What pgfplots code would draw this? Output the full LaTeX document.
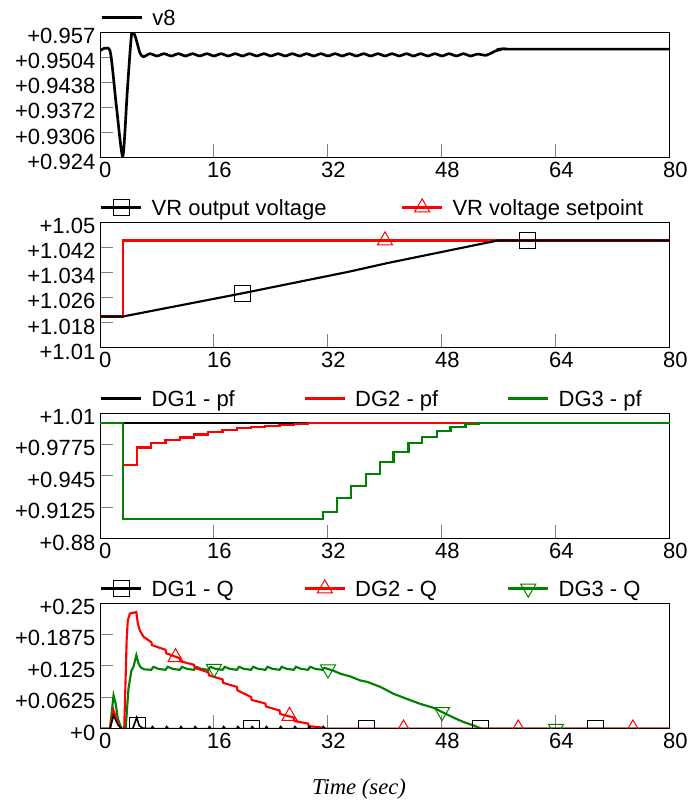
\documentclass[border=0pt]{standalone}
\usepackage{fontspec}
\setmainfont{Liberation Sans}
\newfontfamily\serifit{Liberation Serif}
\usepackage{pgfplots}
\pgfplotsset{compat=1.18}

\newcommand\fsz{\fontsize{16.5}{19}\selectfont}
% legend text in a box of fixed width so that the entries sit where the original has them
\newcommand\lent[2]{\makebox[#1][l]{\raisebox{0pt}[14pt][2.2pt]{#2}}}

\definecolor{dgreen}{RGB}{0,128,0}

\pgfplotsset{
  panel/.style={
    scale only axis, width=427.5pt, height=94.2pt,
    xmin=0, xmax=80,
    xtick={0,16,32,48,64,80}, xticklabels={0,16,32,48,64,80},
    xtick pos=left, ytick pos=left, tick align=inside,
    major tick length=10pt, tick style={gray, line width=0.75pt},
    axis line style={black, line width=0.75pt},
    clip marker paths=true,
    ticklabel style={font=\fsz},
    xticklabel style={xshift=4pt},
    yticklabel style={yshift=-3pt},
    legend style={draw=none, fill=none, at={(0,1)}, anchor=south west, yshift=0.9pt,
      legend columns=-1, inner sep=0pt, font=\fsz, column sep=5pt},
    legend cell align=left,
    legend image code/.code={\draw[##1, mark repeat=2, mark phase=2]
      plot coordinates {(0pt,0pt) (15pt,0pt) (30pt,0pt)};},
  },
  every axis plot/.append style={line width=1.6pt},
  sqm/.style={only marks, mark=square, mark size=6pt, mark options={black, line width=0.75pt, solid}, forget plot},
  trm/.style={only marks, mark=triangle, mark size=6.5pt, mark options={red, line width=0.75pt, solid}, forget plot},
  itm/.style={only marks, mark=triangle, mark size=6.5pt, mark options={dgreen, line width=0.75pt, solid, rotate=180}, forget plot},
}

\begin{document}
\begin{tikzpicture}
\path[use as bounding box] (0,0) rectangle (518.25pt,-602.25pt);

% ---- v8
\begin{axis}[panel, at={(75pt,-24pt)}, anchor=north west,
  ymin=0.924, ymax=0.957,
  ytick={0.924,0.9306,0.9372,0.9438,0.9504,0.957},
  yticklabels={+0.924,+0.9306,+0.9372,+0.9438,+0.9504,+0.957}]
\addplot[black, line width=2pt, smooth, tension=0.4] coordinates {
  (0,0.9521) (1.4,0.9521) (2.3,0.9375) (3.2,0.9243) (3.85,0.942) (4.45,0.9567)
  (5.0,0.9555) (5.6,0.9515) (6.1,0.9505)
  (7,0.9513) (8,0.9507) (9,0.9513) (10,0.9507) (11,0.9513) (12,0.9507)
  (13,0.9513) (14,0.9507) (15,0.9513) (16,0.9507) (17,0.9513) (18,0.9507)
  (19,0.9513) (20,0.9507) (21,0.9513) (22,0.9507) (23,0.9513) (24,0.9507)
  (25,0.9513) (26,0.9507) (27,0.9513) (28,0.9507) (29,0.9513) (30,0.9507)
  (31,0.9513) (32,0.9507) (33,0.9513) (34,0.9507) (35,0.9513) (36,0.9507)
  (37,0.9513) (38,0.9507) (39,0.9513) (40,0.9507) (41,0.9513) (42,0.9507)
  (43,0.9513) (44,0.9507) (45,0.9513) (46,0.9507) (47,0.9513) (48,0.9507)
  (49,0.9513) (50,0.9507) (51,0.9513) (52,0.9507) (53,0.9512)
  (54.2,0.9509) (55.5,0.9520) (56.7,0.9526) (58,0.9525) (80,0.9525)};
\addlegendentry{\lent{40pt}{v8}}
\end{axis}

% ---- VR voltages
\begin{axis}[panel, at={(75pt,-166.5pt)}, anchor=north west,
  ymin=1.01, ymax=1.05,
  ytick={1.01,1.018,1.026,1.034,1.042,1.05},
  yticklabels={+1.01,+1.018,+1.026,+1.034,+1.042,+1.05}]
\addlegendimage{black, mark=square, mark size=6pt, mark options={line width=0.75pt, fill=white}}
\addlegendentry{\lent{180pt}{VR output voltage}}
\addlegendimage{red, mark=triangle, mark size=6.5pt, mark options={line width=0.75pt, fill=white}}
\addlegendentry{\lent{150pt}{VR voltage setpoint}}
\addplot[red, forget plot] coordinates {(0,1.0199) (3.2,1.0199) (3.2,1.0441) (80,1.0441)};
\addplot[black, forget plot] coordinates {
  (0,1.0199) (3.2,1.0199) (20,1.0273) (35,1.0342) (40.3,1.0369) (55.8,1.0441) (80,1.0441)};
\addplot[sqm] coordinates {(20,1.0273) (60,1.0441)};
\addplot[trm] coordinates {(40,1.0441)};
\end{axis}

% ---- power factors
\begin{axis}[panel, at={(75pt,-309.75pt)}, anchor=north west,
  ymin=0.88, ymax=1.01,
  ytick={0.88,0.9125,0.945,0.9775,1.01},
  yticklabels={+0.88,+0.9125,+0.945,+0.9775,+1.01}]
\addplot[black] coordinates {(0,1.0) (80,1.0)};
\addlegendentry{\lent{107pt}{DG1 - pf}}
\addplot[red, const plot] coordinates {
  (0,1.0) (3.2,0.9559) (5.2,0.9743) (7.2,0.9791) (9.2,0.9819) (11.2,0.9847)
  (13.2,0.9878) (15.2,0.9902) (17.2,0.9923) (19.2,0.9941) (21.2,0.9954)
  (23.2,0.9968) (25.2,0.9979) (27.2,0.9989) (29.2,0.9996) (31.2,1.0) (80,1.0)};
\addlegendentry{\lent{107pt}{DG2 - pf}}
\addplot[dgreen, const plot] coordinates {
  (0,1.0) (3.2,0.9003) (31.3,0.9074) (33.3,0.9220) (35.2,0.9344) (37.3,0.9473)
  (39.3,0.9594) (41.2,0.9698) (43.3,0.9791) (45.2,0.9854) (47.3,0.9916)
  (49.2,0.9958) (51.3,0.9982) (53.2,1.0) (80,1.0)};
\addlegendentry{\lent{100pt}{DG3 - pf}}
\end{axis}

% ---- reactive powers
\begin{axis}[panel, at={(75pt,-452.25pt)}, anchor=north west,
  ymin=0, ymax=0.25,
  ytick={0,0.0625,0.125,0.1875,0.25},
  yticklabels={+0,+0.0625,+0.125,+0.1875,+0.25},
  xlabel={Time (sec)},
  xlabel style={font=\serifit\itshape\fontsize{17}{20}\selectfont,
    at={(axis description cs:0.4545,-0.48)}, anchor=center}]
\addlegendimage{black, mark=square, mark size=6pt, mark options={line width=0.75pt, fill=white}}
\addlegendentry{\lent{107pt}{DG1 - Q}}
\addlegendimage{red, mark=triangle, mark size=6.5pt, mark options={line width=0.75pt, fill=white}}
\addlegendentry{\lent{107pt}{DG2 - Q}}
\addlegendimage{dgreen, mark=triangle, mark size=6.5pt, mark options={line width=0.75pt, fill=white, rotate=180}}
\addlegendentry{\lent{100pt}{DG3 - Q}}
\addplot[dgreen, forget plot] coordinates {
  (0,0) (1.4,0) (1.9,0.066) (2.2,0.05) (2.5,0.02) (3.0,0) (3.6,0) (4.0,0.08)
  (4.4,0.115) (4.7,0.123) (5.1,0.146) (5.4,0.130) (5.7,0.122) (6.2,0.118)
  (7.2,0.117) (7.5,0.123) (8.2,0.119) (9.2,0.117) (9.5,0.123) (10.2,0.119)
  (11.2,0.117) (11.5,0.123) (12.2,0.119) (13.2,0.117) (13.5,0.123) (14.2,0.119)
  (15.2,0.117) (15.5,0.123) (16.2,0.119) (17.2,0.117) (17.5,0.123) (18.2,0.119)
  (19.2,0.117) (19.5,0.123) (20.2,0.119) (21.2,0.117) (21.5,0.123) (22.2,0.119)
  (23.2,0.117) (23.5,0.123) (24.2,0.119) (25.2,0.117) (25.5,0.123) (26.2,0.119)
  (27.2,0.117) (27.5,0.123) (28.2,0.119) (29.2,0.117) (29.5,0.123) (30.2,0.119)
  (31.2,0.117) (31.5,0.121) (32.8,0.115) (33.8,0.109) (35.1,0.104) (36.5,0.096)
  (37.5,0.093) (39.4,0.0827) (41.2,0.0693) (43.1,0.059) (45.0,0.049)
  (46.9,0.041) (48.3,0.031) (49.7,0.0213) (51.1,0.0127) (52.5,0.006)
  (53.5,0) (80,0)};
\addplot[red, forget plot] coordinates {
  (0,0) (1.4,0) (1.9,0.036) (2.5,0.012) (3.0,0) (3.4,0) (3.75,0.18) (3.9,0.215)
  (4.2,0.229) (5.1,0.232) (5.3,0.210) (5.6,0.195) (6.1,0.183)
  (7.2,0.172) (7.3,0.166) (9.2,0.157) (9.3,0.150) (11.2,0.140) (11.3,0.134)
  (13.2,0.127) (13.3,0.121) (15.2,0.112) (15.3,0.106) (17.2,0.098) (17.3,0.091)
  (19.2,0.083) (19.3,0.076) (21.2,0.063) (21.3,0.057) (23.2,0.050) (23.3,0.044)
  (25.2,0.036) (25.3,0.029) (27.2,0.022) (27.3,0.015) (29.2,0.010) (29.3,0.005)
  (31.2,0.002) (31.3,0) (80,0)};
\addplot[black, line width=1.2pt, forget plot] coordinates {
  (0,0) (1.4,0) (1.9,0.026) (2.5,0.008) (3.0,0) (4.6,0) (5.15,0.022) (5.5,0.006)
  (6.0,0.001) (7.2,0) (7.35,0.004) (7.6,0) (9.2,0) (9.35,0.004) (9.6,0)
  (11.2,0) (11.35,0.004) (11.6,0) (13.2,0) (13.35,0.004) (13.6,0)
  (15.2,0) (15.35,0.004) (15.6,0) (17.2,0) (17.35,0.004) (17.6,0)
  (19.2,0) (19.35,0.004) (19.6,0) (21.2,0) (21.35,0.004) (21.6,0)
  (23.2,0) (23.35,0.004) (23.6,0) (25.2,0) (25.35,0.004) (25.6,0)
  (27.2,0) (27.35,0.004) (27.6,0) (29.2,0) (29.35,0.004) (29.6,0)
  (31.2,0) (31.35,0.004) (31.6,0) (80,0)};
\addplot[sqm] coordinates {(5.3,0.006) (21.3,0) (37.4,0) (53.4,0) (69.5,0)};
\addplot[trm] coordinates {(10.6,0.142) (26.6,0.025) (42.6,0) (58.7,0) (74.8,0)};
\addplot[itm] coordinates {(16,0.119) (32,0.118) (48,0.033) (64,0)};
\end{axis}
\end{tikzpicture}
\end{document}
